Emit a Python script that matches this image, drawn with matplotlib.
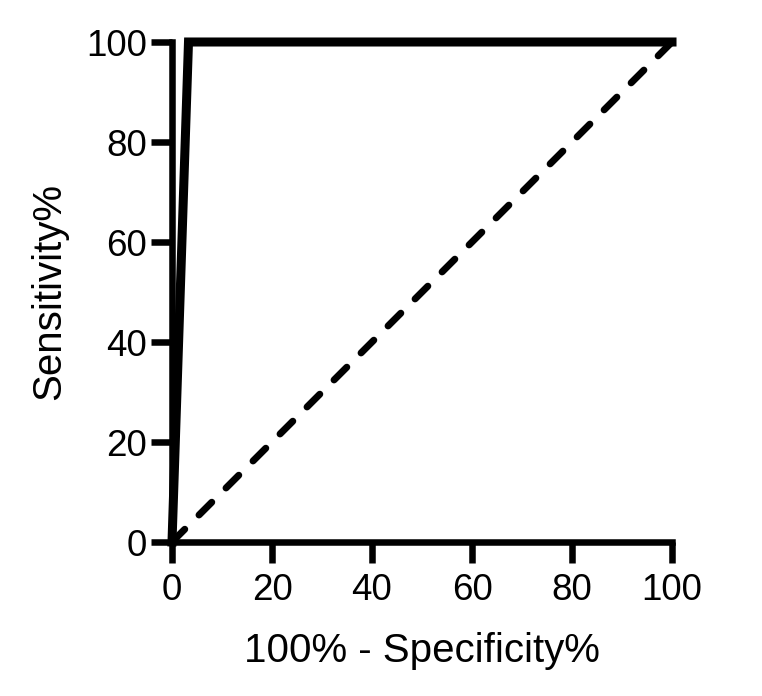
import matplotlib
matplotlib.use('Agg')

import matplotlib.pyplot as plt

# ROC curve (percent)
fpr = [0, 3.3, 100]
tpr = [0, 100, 100]

# chance line
ref_x = [0, 100]
ref_y = [0, 100]

ticks = [0, 20, 40, 60, 80, 100]

plt.rcParams['font.family'] = ['Liberation Sans', 'DejaVu Sans']

fig = plt.figure(figsize=(7.62, 6.96), dpi=100)
ax = fig.add_axes([172 / 762, 1 - 542 / 696, 500 / 762, 500 / 696])

ax.plot(ref_x, ref_y, color='black', lw=5, linestyle=(0, (2.6, 2.9)),
        dash_capstyle='round', clip_on=False, zorder=2)
ax.plot(fpr, tpr, color='black', lw=6.5, solid_joinstyle='miter',
        clip_on=False, zorder=3)

ax.set_xlim(0, 100)
ax.set_ylim(0, 100)
ax.set_xticks(ticks)
ax.set_yticks(ticks)

for side in ['top', 'right']:
    ax.spines[side].set_visible(False)
for side in ['left', 'bottom']:
    ax.spines[side].set_linewidth(4.7)
    ax.spines[side].set_capstyle('projecting')

ax.tick_params(axis='both', direction='out', length=15, width=4.7,
               labelsize=26.5, color='black')
ax.tick_params(axis='x', pad=7)
ax.tick_params(axis='y', pad=3)

ax.set_xlabel('100% - Specificity%', fontsize=29)
ax.set_ylabel('Sensitivity%', fontsize=29)
ax.xaxis.set_label_coords(0.5, -0.18)
ax.yaxis.set_label_coords(-0.208, 0.5)

fig.savefig('out.png', dpi=100)
plt.close(fig)
